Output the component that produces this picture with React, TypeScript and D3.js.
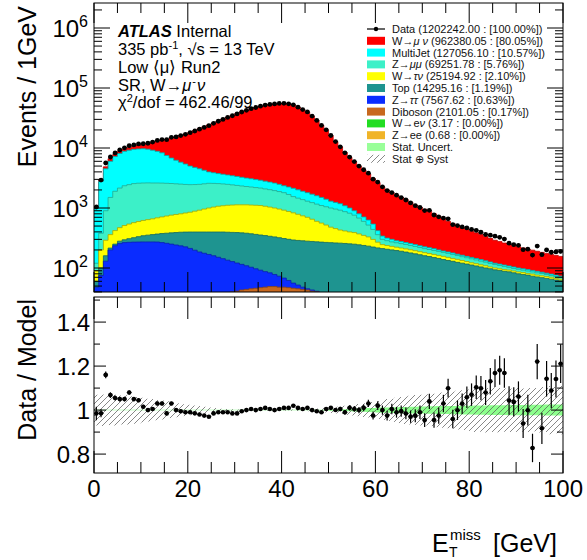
import React, { useEffect, useRef } from "react";
import * as d3 from "d3";

// bin edges 0..100 GeV, 1 GeV wide
const nBins = 100;

const wmunu = [65, 180, 350, 630, 620, 720, 800, 900, 1200, 1550,
  1900, 2450, 3300, 4200, 5100, 6500, 7800, 9050, 10400, 11700,
  13200, 14750, 16500, 18350, 20300, 22330, 24450, 26650, 29050, 31550,
  34150, 36750, 39350, 41930, 44320, 46600, 48700, 50300, 51600, 52520,
  52650, 51760, 49370, 45490, 41600, 37700, 32300, 27400, 22500, 18600,
  14700, 11560, 9220, 7310, 6000, 5000, 4200, 3590, 3070, 2560,
  2230, 1910, 1685, 1500, 1365, 1225, 1115, 995, 875, 795,
  725, 662, 590, 530, 468, 415, 372, 340, 307, 284,
  260, 241, 222, 203, 186, 170, 159, 148, 140, 132,
  125, 118, 112, 107, 102, 97, 93, 89, 86, 83];

const multijet = [870, 2400, 3600, 4500, 5300, 5950, 6450, 6750, 6950, 7060,
  7090, 6930, 6590, 6190, 5700, 4920, 4240, 3720, 3300, 2930,
  2550, 2290, 2020, 1720, 1420, 1300, 1200, 1130, 1070, 1020,
  970, 920, 870, 830, 790, 750, 720, 680, 650, 600,
  550, 560, 580, 550, 520, 500, 470, 440, 400, 350,
  300, 280, 260, 220, 180, 140, 120, 110, 110, 100,
  60, 40, 30, 28, 22, 20, 19, 18, 17, 16,
  15, 15, 14, 11, 10, 10, 10, 9, 9, 8,
  8, 8, 8, 7, 7, 6, 6, 6, 6, 6,
  5, 5, 5, 5, 5, 4, 4, 4, 4, 3];

const zmumu = [30, 180, 610, 1140, 1480, 1680, 1840, 1910, 1980, 1995,
  1990, 1980, 1950, 1925, 1890, 1845, 1800, 1750, 1700, 1645,
  1600, 1575, 1560, 1570, 1580, 1535, 1480, 1430, 1370, 1310,
  1250, 1200, 1150, 1120, 1080, 1050, 1010, 985, 950, 920,
  880, 805, 720, 675, 640, 600, 580, 560, 540, 530,
  520, 505, 490, 455, 420, 370, 310, 250, 190, 140,
  90, 55, 48, 43, 41, 40, 38, 36, 34, 32,
  30, 29, 28, 27, 26, 25, 24, 22, 21, 20,
  20, 18, 17, 16, 15, 14, 13, 12, 10, 9,
  9, 8, 8, 7, 7, 7, 6, 5, 5, 5];

const wtaunu = [30, 100, 130, 145, 170, 190, 215, 232, 250, 262,
  275, 287, 300, 317, 335, 355, 375, 390, 405, 428,
  452, 487, 522, 562, 602, 637, 672, 692, 715, 728,
  740, 745, 750, 748, 747, 745, 723, 697, 670, 640,
  610, 574, 537, 497, 456, 420, 373, 327, 290, 253,
  215, 193, 170, 158, 147, 140, 126, 112, 98, 76,
  53, 35, 32, 29, 27, 25, 24, 23, 22, 21,
  20, 19, 19, 18, 18, 17, 15, 15, 13, 12,
  10, 10, 9, 9, 7, 7, 6, 6, 6, 6,
  6, 6, 5, 6, 5, 5, 5, 5, 4, 4];

const topq = [12, 25, 30, 15, 15, 25, 30, 40, 50, 62,
  73, 81, 88, 97, 110, 122, 135, 148, 161, 172,
  186, 200, 213, 222, 230, 238, 247, 255, 260, 264,
  269, 270, 271, 269, 266, 263, 260, 255, 252, 247,
  242, 239, 237, 236, 236, 235, 234, 232, 231, 230,
  229, 228, 227, 225, 222, 221, 216, 211, 206, 199,
  193, 187, 183, 178, 174, 169, 164, 158, 153, 147,
  142, 137, 132, 127, 122, 117, 114, 109, 106, 102,
  99, 95, 92, 88, 86, 82, 80, 78, 76, 73,
  70, 69, 67, 64, 62, 60, 59, 57, 55, 53];

const ztautau = [46, 72, 126, 195, 229, 248, 257, 259, 260, 260,
  260, 259, 258, 256, 248, 240, 230, 221, 211, 201,
  186, 171, 156, 146, 136, 127, 116, 107, 97, 88,
  80, 72, 65, 58, 51, 45, 39, 34, 29, 25,
  20, 15, 10, 7, 4, 2, 2, 1, 1, 1,
  0.5, 0.5, 0.5, 0.5, 0.5, 0.5, 0.5, 0.5, 0.5, 0.5,
  0.4, 0.4, 0.4, 0.4, 0.4, 0.4, 0.4, 0.4, 0.4, 0.4,
  0.3, 0.3, 0.3, 0.3, 0.3, 0.3, 0.3, 0.3, 0.3, 0.3,
  0.2, 0.2, 0.2, 0.2, 0.2, 0.2, 0.2, 0.2, 0.2, 0.2,
  0.1, 0.1, 0.1, 0.1, 0.1, 0.1, 0.1, 0.1, 0.1, 0.1];

const diboson = [2, 3, 4, 5, 6, 7, 8, 9, 10, 11,
  12, 13, 14, 15, 17, 18, 20, 21, 23, 24,
  26, 27, 29, 30, 32, 33, 35, 36, 38, 40,
  41, 43, 44, 45, 46, 47, 48, 49, 49, 48,
  48, 47, 46, 45, 44, 43, 41, 40, 38, 36,
  35, 33, 32, 31, 30, 28, 27, 26, 25, 24,
  23, 23, 22, 22, 21, 21, 20, 20, 19, 19,
  18, 18, 17, 17, 16, 16, 15, 15, 14, 14,
  13, 13, 12, 12, 11, 11, 11, 10, 10, 10,
  10, 9, 9, 9, 9, 9, 8, 8, 8, 8];

const dataCounts = [1039, 2916, 5626, 7081, 8250, 9261, 10080, 10908, 11235, 11704,
  11774, 12000, 12563, 13390, 13802, 13790, 15038, 15300, 16119, 16929,
  18018, 19208, 20580, 22035, 23571, 25807, 27918, 29997, 32274, 34475,
  36938, 39800, 42500, 45225, 47300, 49748, 52015, 53265, 54200, 55275,
  55550, 54540, 52530, 47975, 43718, 39895, 34000, 28855, 23760, 20100,
  16160, 12800, 10452, 8316, 7070, 5930, 5000, 4343, 3811, 3023,
  2703, 2250, 1950, 1809, 1634, 1493, 1359, 1213, 1092, 1020,
  907, 915, 764, 712, 680, 660, 528, 510, 484, 466,
  439, 425, 396, 362, 353, 339, 325, 304, 259, 245,
  239, 202, 206, 164, 232, 167, 200, 183, 185, 189];

// relative uncertainty bands of the model in the ratio panel
const systRel = [0.07, 0.072, 0.07, 0.068, 0.07, 0.066, 0.068, 0.065, 0.062, 0.06,
  0.056, 0.052, 0.05, 0.046, 0.043, 0.04, 0.036, 0.033, 0.03, 0.027,
  0.024, 0.021, 0.018, 0.015, 0.012, 0.01, 0.008, 0.006, 0.005, 0.004,
  0.003, 0.003, 0.003, 0.003, 0.003, 0.003, 0.003, 0.003, 0.003, 0.003,
  0.003, 0.003, 0.003, 0.004, 0.004, 0.005, 0.006, 0.007, 0.009, 0.011,
  0.013, 0.015, 0.018, 0.02, 0.022, 0.025, 0.028, 0.031, 0.034, 0.037,
  0.04, 0.045, 0.05, 0.052, 0.056, 0.06, 0.063, 0.065, 0.068, 0.07,
  0.07, 0.072, 0.074, 0.078, 0.08, 0.083, 0.085, 0.088, 0.09, 0.093,
  0.095, 0.1, 0.098, 0.102, 0.1, 0.104, 0.1, 0.098, 0.1, 0.095,
  0.1, 0.098, 0.1, 0.096, 0.1, 0.105, 0.1, 0.11, 0.105, 0.11];

const statRel = [0.001, 0.001, 0.001, 0.001, 0.001, 0.001, 0.001, 0.001, 0.001, 0.001,
  0.001, 0.001, 0.001, 0.001, 0.001, 0.001, 0.001, 0.001, 0.001, 0.001,
  0.001, 0.001, 0.001, 0.001, 0.001, 0.001, 0.001, 0.001, 0.001, 0.001,
  0.001, 0.001, 0.001, 0.001, 0.001, 0.001, 0.001, 0.001, 0.001, 0.001,
  0.001, 0.001, 0.001, 0.001, 0.001, 0.001, 0.001, 0.002, 0.002, 0.002,
  0.003, 0.003, 0.004, 0.004, 0.005, 0.006, 0.007, 0.008, 0.009, 0.01,
  0.011, 0.012, 0.012, 0.013, 0.013, 0.014, 0.014, 0.015, 0.015, 0.016,
  0.016, 0.017, 0.017, 0.018, 0.018, 0.018, 0.019, 0.019, 0.02, 0.02,
  0.02, 0.021, 0.021, 0.021, 0.022, 0.022, 0.022, 0.022, 0.023, 0.023,
  0.023, 0.023, 0.024, 0.024, 0.024, 0.024, 0.025, 0.025, 0.025, 0.025];

const xTicks = [0, 20, 40, 60, 80, 100];
const ratioTicks = [0.8, 1, 1.2, 1.4];
const ratioTickLabels = ["0.8", "1", "1.2", "1.4"];
const logDecades = [2, 3, 4, 5, 6];

// legend rows; italic parts are marked with a leading "~"
const legendRows: { parts: string[]; fill: string; kind: string }[] = [
  { parts: ["Data (1202242.00 : [100.00%])"], fill: "#000", kind: "data" },
  { parts: ["W\u2192", "~\u03bc \u03bd", " (962380.05 : [80.05%])"], fill: "#ff0000", kind: "box" },
  { parts: ["MultiJet (127056.10 : [10.57%])"], fill: "#00ffff", kind: "box" },
  { parts: ["Z\u2192", "~\u03bc\u03bc", " (69251.78 : [5.76%])"], fill: "#3cf0c8", kind: "box" },
  { parts: ["W\u2192", "~\u03c4\u03bd", " (25194.92 : [2.10%])"], fill: "#ffff00", kind: "box" },
  { parts: ["Top (14295.16 : [1.19%])"], fill: "#1e9490", kind: "box" },
  { parts: ["Z\u2192", "~\u03c4\u03c4", " (7567.62 : [0.63%])"], fill: "#0a2cff", kind: "box" },
  { parts: ["Diboson (2101.05 : [0.17%])"], fill: "#c8681e", kind: "box" },
  { parts: ["W\u2192e", "~\u03bd", " (3.17 : [0.00%])"], fill: "#22dd22", kind: "box" },
  { parts: ["Z\u2192ee (0.68 : [0.00%])"], fill: "#f0b428", kind: "box" },
  { parts: ["Stat. Uncert."], fill: "#99ff99", kind: "box" },
  { parts: ["Stat \u2295 Syst"], fill: "none", kind: "hatch" },
];

const FONT = "'Liberation Sans', Arial, Helvetica, sans-serif";
const W = 587, H = 560;
const L = 94, R = 563, T1 = 3, B1 = 292, T2 = 297, B2 = 473;

export default function App() {
  const ref = useRef<SVGSVGElement>(null);

  useEffect(() => {
    const svg = d3.select(ref.current);
    svg.selectAll("*").remove();

    const x = d3.scaleLinear().domain([0, 100]).range([L, R]);
    const y = d3.scaleLog().domain([Math.pow(10, 1.6), Math.pow(10, 6.4167)]).range([B1, T1]);
    const yr = d3.scaleLinear().domain([0.714, 1.514]).range([B2, T2]);

    const defs = svg.append("defs");
    defs.append("clipPath").attr("id", "clipTop")
      .append("rect").attr("x", L).attr("y", T1).attr("width", R - L).attr("height", B1 - T1);
    defs.append("clipPath").attr("id", "clipRatio")
      .append("rect").attr("x", L).attr("y", T2).attr("width", R - L).attr("height", B2 - T2);
    const pat = defs.append("pattern").attr("id", "hatch").attr("patternUnits", "userSpaceOnUse")
      .attr("width", 6).attr("height", 6);
    pat.append("path").attr("d", "M0,6 L6,0 M-1.5,1.5 L1.5,-1.5 M4.5,7.5 L7.5,4.5")
      .attr("stroke", "#555").attr("stroke-width", 0.7);

    svg.append("rect").attr("width", W).attr("height", H).attr("fill", "#fff");

    // ---------- stack ----------
    const stack = [
      { vals: diboson, fill: "#c8681e", line: "#8a4512" },
      { vals: ztautau, fill: "#0a2cff", line: "#0a1fb0" },
      { vals: topq, fill: "#1e9490", line: "#126660" },
      { vals: wtaunu, fill: "#ffff00", line: "#a8a800" },
      { vals: zmumu, fill: "#3cf0c8", line: "#24a890" },
      { vals: multijet, fill: "#00ffff", line: "#00a8a8" },
      { vals: wmunu, fill: "#ff0000", line: "#c00000" },
    ];
    const cum: number[][] = [];
    stack.forEach((s, k) => {
      cum.push(s.vals.map((v, i) => v + (k > 0 ? cum[k - 1][i] : 0)));
    });
    const model = cum[cum.length - 1];

    const gTop = svg.append("g").attr("clip-path", "url(#clipTop)");
    const edgeIdx = d3.range(nBins + 1);
    const binOf = (e: number) => Math.min(e, nBins - 1);
    const area = (vals: number[]) =>
      d3.area<number>()
        .x((e) => x(e))
        .y0(B1 + 2)
        .y1((e) => y(Math.max(vals[binOf(e)], 1)))
        .curve(d3.curveStepAfter)(edgeIdx);
    const topLine = (vals: number[]) =>
      d3.line<number>()
        .x((e) => x(e))
        .y((e) => y(Math.max(vals[binOf(e)], 1)))
        .curve(d3.curveStepAfter)(edgeIdx);

    for (let k = stack.length - 1; k >= 0; k--) {
      gTop.append("path").attr("d", area(cum[k])).attr("fill", stack[k].fill);
      gTop.append("path").attr("d", topLine(cum[k])).attr("fill", "none")
        .attr("stroke", stack[k].line).attr("stroke-width", 0.8);
    }

    // data points
    const gData = gTop.append("g");
    dataCounts.forEach((n, i) => {
      const cx = x(i + 0.5), cy = y(n), err = Math.sqrt(n);
      gData.append("line").attr("x1", x(i)).attr("x2", x(i + 1)).attr("y1", cy).attr("y2", cy)
        .attr("stroke", "#000").attr("stroke-width", 1);
      gData.append("line").attr("x1", cx).attr("x2", cx).attr("y1", y(n + err)).attr("y2", y(Math.max(n - err, 1)))
        .attr("stroke", "#000").attr("stroke-width", 1);
      gData.append("circle").attr("cx", cx).attr("cy", cy).attr("r", 2.4).attr("fill", "#000");
    });

    // ---------- ratio ----------
    const gR = svg.append("g").attr("clip-path", "url(#clipRatio)");
    const band = (rel: number[]) =>
      d3.area<number>()
        .x((e) => x(e))
        .y0((e) => yr(1 - rel[binOf(e)]))
        .y1((e) => yr(1 + rel[binOf(e)]))
        .curve(d3.curveStepAfter)(edgeIdx);
    gR.append("path").attr("d", band(statRel)).attr("fill", "#8cff8c");
    gR.append("path").attr("d", band(systRel)).attr("fill", "url(#hatch)");

    dataCounts.forEach((n, i) => {
      const r = n / model[i];
      const e = Math.sqrt(n) / model[i];
      const cx = x(i + 0.5), cy = yr(r);
      gR.append("line").attr("x1", x(i)).attr("x2", x(i + 1)).attr("y1", cy).attr("y2", cy)
        .attr("stroke", "#000").attr("stroke-width", 1);
      gR.append("line").attr("x1", cx).attr("x2", cx).attr("y1", yr(r + e)).attr("y2", yr(r - e))
        .attr("stroke", "#000").attr("stroke-width", 1.2);
      gR.append("circle").attr("cx", cx).attr("cy", cy).attr("r", 2.3).attr("fill", "#000");
    });

    // ---------- frames & ticks ----------
    const axes = svg.append("g").attr("stroke", "#000").attr("stroke-width", 1).attr("fill", "none");
    axes.append("rect").attr("x", L).attr("y", T1).attr("width", R - L).attr("height", B1 - T1);
    axes.append("rect").attr("x", L).attr("y", T2).attr("width", R - L).attr("height", B2 - T2);

    const tick = (x1: number, y1: number, x2: number, y2: number) =>
      axes.append("line").attr("x1", x1).attr("y1", y1).attr("x2", x2).attr("y2", y2);

    d3.range(0, 101, 5).forEach((v) => {
      const major = v % 20 === 0;
      const px = x(v);
      const lt = major ? 20 : 10, lr = major ? 22 : 11;
      tick(px, B1, px, B1 - lt);
      tick(px, T1, px, T1 + lt);
      tick(px, B2, px, B2 - lr);
      tick(px, T2, px, T2 + lr);
    });

    const [lo, hi] = y.domain();
    for (let dec = 1; dec <= 6; dec++) {
      for (let m = 1; m <= 9; m++) {
        const v = m * Math.pow(10, dec);
        if (v < lo || v > hi) continue;
        const py = y(v);
        const len = m === 1 ? 16 : 8;
        tick(L, py, L + len, py);
        tick(R, py, R - len, py);
      }
    }

    d3.range(0.8, 1.51, 0.1).forEach((v) => {
      const major = Math.abs(Math.round(v * 10) % 2) === 0;
      const py = yr(v);
      const len = major ? 12 : 6;
      tick(L, py, L + len, py);
      tick(R, py, R - len, py);
    });

    // ---------- labels ----------
    const txt = svg.append("g").attr("font-family", FONT).attr("fill", "#000");

    logDecades.forEach((dec) => {
      const t = txt.append("text").attr("x", 88).attr("y", y(Math.pow(10, dec)) + 9)
        .attr("text-anchor", "end").attr("font-size", 24);
      t.append("tspan").text("10");
      t.append("tspan").attr("dy", -10).attr("font-size", 16).text(String(dec));
    });

    ratioTicks.forEach((v, i) => {
      txt.append("text").attr("x", 90).attr("y", yr(v) + 8.5).attr("text-anchor", "end")
        .attr("font-size", 24).text(ratioTickLabels[i]);
    });

    xTicks.forEach((v) => {
      txt.append("text").attr("x", x(v)).attr("y", 497).attr("text-anchor", "middle")
        .attr("font-size", 24).text(String(v));
    });

    txt.append("text").attr("transform", "translate(36,6) rotate(-90)").attr("text-anchor", "end")
      .attr("font-size", 25).text("Events / 1GeV");
    txt.append("text").attr("transform", "translate(36,299) rotate(-90)").attr("text-anchor", "end")
      .attr("font-size", 25).text("Data / Model");

    txt.append("text").attr("x", 432).attr("y", 552).attr("font-size", 25).text("E");
    txt.append("text").attr("x", 449).attr("y", 557).attr("font-size", 14).text("T");
    txt.append("text").attr("x", 450).attr("y", 540).attr("font-size", 15).text("miss");
    txt.append("text").attr("x", 493).attr("y", 552).attr("font-size", 25).text("[GeV]");

    // info block
    const info = txt.append("g").attr("font-size", 16.5);
    const l1 = info.append("text").attr("x", 118).attr("y", 37);
    l1.append("tspan").attr("font-weight", "bold").attr("font-style", "italic").text("ATLAS");
    l1.append("tspan").text(" Internal");
    const l2 = info.append("text").attr("x", 118).attr("y", 55);
    l2.append("tspan").text("335 pb");
    l2.append("tspan").attr("dy", -6).attr("font-size", 11).text("-1");
    l2.append("tspan").attr("dy", 6).text(", \u221as = 13 TeV");
    info.append("text").attr("x", 118).attr("y", 73).text("Low \u27e8\u03bc\u27e9 Run2");
    const l4 = info.append("text").attr("x", 118).attr("y", 91);
    l4.append("tspan").text("SR, W\u2192");
    l4.append("tspan").attr("font-style", "italic").text("\u03bc");
    l4.append("tspan").attr("dy", -6).attr("dx", 1).attr("font-size", 11).text("-");
    l4.append("tspan").attr("dy", 6).attr("dx", 1).attr("font-style", "italic").text("\u03bd");
    const l5 = info.append("text").attr("x", 118).attr("y", 108);
    l5.append("tspan").text("\u03c7");
    l5.append("tspan").attr("dy", -6).attr("font-size", 11).text("2");
    l5.append("tspan").attr("dy", 6).text("/dof = 462.46/99");

    // legend
    const leg = svg.append("g").attr("font-family", FONT).attr("font-size", 11).attr("fill", "#111");
    legendRows.forEach((row, i) => {
      const cy = 29 + i * 11.8;
      if (row.kind === "data") {
        leg.append("line").attr("x1", 367).attr("x2", 385).attr("y1", cy).attr("y2", cy)
          .attr("stroke", "#000").attr("stroke-width", 1.2);
        leg.append("circle").attr("cx", 376).attr("cy", cy).attr("r", 2.2).attr("fill", "#000");
      } else if (row.kind === "hatch") {
        leg.append("rect").attr("x", 367).attr("y", cy - 4).attr("width", 18).attr("height", 8)
          .attr("fill", "url(#hatch)");
      } else {
        leg.append("rect").attr("x", 367).attr("y", cy - 4).attr("width", 18).attr("height", 8)
          .attr("fill", row.fill);
      }
      const t = leg.append("text").attr("x", 392).attr("y", cy + 4);
      row.parts.forEach((p) => {
        if (p.startsWith("~")) t.append("tspan").attr("font-style", "italic").text(p.slice(1));
        else t.append("tspan").text(p);
      });
    });
  }, []);

  return (
    <svg ref={ref} width={W} height={H}
      style={{ position: "absolute", left: 0, top: 0, display: "block" }} />
  );
}
